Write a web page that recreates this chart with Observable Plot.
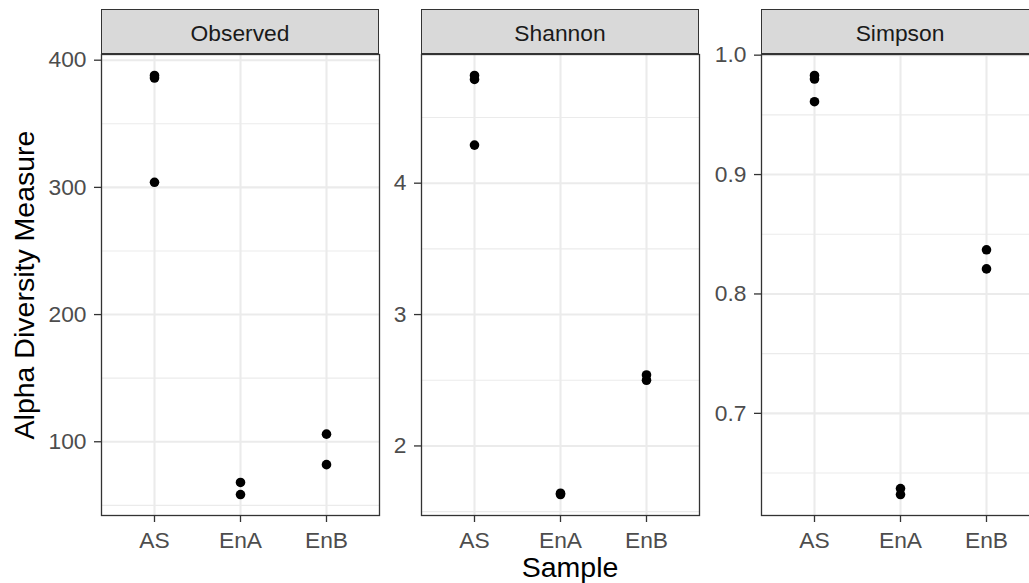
<!DOCTYPE html>
<html><head><meta charset="utf-8">
<script src="https://cdn.jsdelivr.net/npm/d3@7"></script>
<script src="https://cdn.jsdelivr.net/npm/@observablehq/plot@0.6"></script>
<style>
html,body{margin:0;padding:0;background:#fff;overflow:hidden;}
#chart{position:relative;width:1029px;height:583px;overflow:hidden;font-family:"Liberation Sans",Arial,sans-serif;background:#fff;}
.strip{position:absolute;top:9px;height:45px;box-sizing:border-box;background:#D9D9D9;border:1.3px solid #333;display:flex;align-items:center;justify-content:center;font-size:22.8px;color:#1A1A1A;padding-top:4px;}
.ytitle{position:absolute;left:24px;top:284.5px;transform:translate(-50%,-50%) rotate(-90deg);white-space:nowrap;font-size:28.5px;color:#000;}
.xtitle{position:absolute;left:570px;top:553px;transform:translateX(-50%);white-space:nowrap;font-size:28.5px;line-height:1;color:#000;}
</style></head>
<body><div id="chart"></div>
<script>
// ---- data ----
const samples = ["AS", "EnA", "EnB"];
const measures = ["Observed", "Shannon", "Simpson"];
const sampleOf = ["AS", "AS", "AS", "EnA", "EnA", "EnB", "EnB"];
const observed = [388, 386, 304, 68, 58.5, 106, 82];
const shannon = [4.82, 4.79, 4.29, 1.64, 1.63, 2.54, 2.50];
const simpson = [0.983, 0.980, 0.961, 0.637, 0.632, 0.837, 0.821];
const ticksObserved = [100, 200, 300, 400];
const minorObserved = [50, 150, 250, 350];
const ticksShannon = [2, 3, 4];
const minorShannon = [1.5, 2.5, 3.5, 4.5];
const ticksSimpson = [0.7, 0.8, 0.9, 1.0];
const minorSimpson = [0.65, 0.75, 0.85, 0.95];
const xTitle = "Sample";
const yTitle = "Alpha Diversity Measure";

// ---- layout ----
const panelLefts = [101, 421, 761];
const panelWidth = 278;
const marginLeft = 70;
const H = 583, mTop = 54, mBottom = 68;

const panels = [
  {name: measures[0], values: observed, ticks: ticksObserved, minor: minorObserved, fmt: d3.format("d")},
  {name: measures[1], values: shannon, ticks: ticksShannon, minor: minorShannon, fmt: d3.format("d")},
  {name: measures[2], values: simpson, ticks: ticksSimpson, minor: minorSimpson, fmt: d3.format(".1f")}
];

const chart = document.getElementById("chart");
const grid = "#EBEBEB";

panels.forEach((p, i) => {
  const data = p.values.map((v, j) => ({sample: sampleOf[j], value: v}));
  const [lo, hi] = d3.extent(p.values);
  const pad = (hi - lo) * 0.05;
  const svg = Plot.plot({
    width: marginLeft + panelWidth + 2,
    height: H,
    marginLeft, marginRight: 2, marginTop: mTop, marginBottom: mBottom,
    x: {type: "point", domain: samples, padding: 0.6},
    y: {domain: [lo - pad, hi + pad]},
    marks: [
      Plot.gridY(p.minor, {stroke: grid, strokeOpacity: 1, strokeWidth: 1.1}),
      Plot.gridY(p.ticks, {stroke: grid, strokeOpacity: 1, strokeWidth: 2.1}),
      Plot.gridX(samples, {stroke: grid, strokeOpacity: 1, strokeWidth: 2.1}),
      Plot.dot(data, {x: "sample", y: "value", r: 4.8, fill: "#000", stroke: "none"}),
      Plot.frame({stroke: "#333", strokeWidth: 1.3}),
      Plot.axisY(p.ticks, {tickSize: 7, tickPadding: 8, fontSize: 22.8, fill: "#4D4D4D", stroke: "#333", strokeWidth: 1.3, tickFormat: p.fmt, label: null}),
      Plot.axisX({tickSize: 7, tickPadding: 9, fontSize: 22.8, fill: "#4D4D4D", stroke: "#333", strokeWidth: 1.3, label: null})
    ]
  });
  svg.style.position = "absolute";
  svg.style.left = (panelLefts[i] - marginLeft) + "px";
  svg.style.top = "0px";
  svg.style.background = "transparent";
  svg.style.overflow = "visible";
  svg.style.maxWidth = "none";
  svg.style.fontFamily = '"Liberation Sans", Arial, sans-serif';
  chart.appendChild(svg);

  const strip = document.createElement("div");
  strip.className = "strip";
  strip.style.left = panelLefts[i] + "px";
  strip.style.width = panelWidth + "px";
  strip.textContent = p.name;
  chart.appendChild(strip);
});

const yt = document.createElement("div");
yt.className = "ytitle";
yt.textContent = yTitle;
chart.appendChild(yt);

const xt = document.createElement("div");
xt.className = "xtitle";
xt.textContent = xTitle;
chart.appendChild(xt);
</script>
</body></html>
